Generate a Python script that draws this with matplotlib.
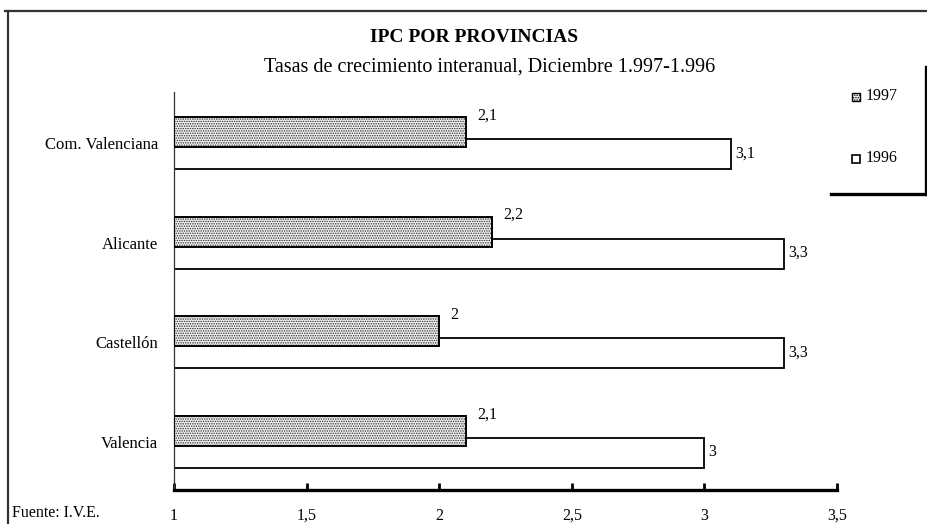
import matplotlib
matplotlib.use("Agg")
import matplotlib.pyplot as plt
from matplotlib.patches import Rectangle
from matplotlib.lines import Line2D

plt.rcParams['font.family'] = ['Liberation Serif', 'DejaVu Serif']
plt.rcParams['hatch.linewidth'] = 0.7

categories = ["Valencia", "Castellón", "Alicante", "Com. Valenciana"]
v1997 = [2.1, 2.0, 2.2, 2.1]
v1996 = [3.0, 3.3, 3.3, 3.1]
labels1997 = ["2,1", "2", "2,2", "2,1"]
labels1996 = ["3", "3,3", "3,3", "3,1"]
xticks = [1, 1.5, 2, 2.5, 3, 3.5]
xticklabels = ["1", "1,5", "2", "2,5", "3", "3,5"]

W, H = 928, 524
fig = plt.figure(figsize=(W/100, H/100), dpi=100)
ax = fig.add_axes([174/W, 1-490/H, 663/W, (490-92)/H])

base = 1.0
hgt = 0.30
off = 0.11
ys = list(range(len(categories)))
y96 = [y - off for y in ys]
y97 = [y + off for y in ys]
ax.barh(y96, [v - base for v in v1996], left=base, height=hgt, color='white',
        edgecolor='black', linewidth=1.3, zorder=2)
ax.barh(y97, [v - base for v in v1997], left=base, height=hgt, color='#f2f2f2',
        edgecolor='#2a2a2a', hatch='.......', linewidth=1.3, zorder=3)
ax.barh(y97, [v - base for v in v1997], left=base, height=hgt, color='none',
        edgecolor='black', linewidth=1.3, zorder=4)

for y, v, t in zip(y97, v1997, labels1997):
    ax.annotate(t, (v, y), xytext=(8, 12), textcoords='offset points',
                fontsize=11.5, va='center', ha='left')
for y, v, t in zip(y96, v1996, labels1996):
    ax.annotate(t, (v, y), xytext=(3, 0.5), textcoords='offset points',
                fontsize=11.5, va='center', ha='left')

ax.set_xlim(1, 3.5)
ax.set_ylim(-0.481, 3.512)
ax.set_xticks(xticks)
ax.set_xticklabels(xticklabels, fontsize=11.5)
ax.set_yticks(ys)
ax.set_yticklabels(categories, fontsize=12)
ax.tick_params(axis='x', direction='in', length=5, width=2, pad=13, colors='black')
ax.tick_params(axis='y', length=0, pad=11.5)
for s in ['top', 'right']:
    ax.spines[s].set_visible(False)
ax.spines['bottom'].set_linewidth(2.4)
ax.spines['left'].set_linewidth(0.9)
ax.spines['left'].set_color('#333333')

fig.text(474/W, 1-37/H, "IPC POR PROVINCIAS", ha='center', va='center',
         fontsize=14, fontweight='bold')
fig.text(490/W, 1-67/H, "Tasas de crecimiento interanual, Diciembre 1.997-1.996",
         ha='center', va='center', fontsize=14.5)
fig.text(12/W, 1-513/H, "Fuente: I.V.E.", ha='left', va='center', fontsize=11.5)

# outer frame
fig.add_artist(Line2D([5/W, 1], [1-11/H, 1-11/H], color='#333333', linewidth=1.6))
fig.add_artist(Line2D([8/W, 8/W], [1-11/H, 0], color='#333333', linewidth=1.6))

# legend box shadow
fig.add_artist(Line2D([926.5/W, 926.5/W], [1-67/H, 1-194/H], color='black', linewidth=2.4))
fig.add_artist(Line2D([831/W, 928/W], [1-193.5/H, 1-193.5/H], color='black', linewidth=2.4))
# legend entries
fig.add_artist(Rectangle((852/W, 1-101/H), 8/W, 8/H, facecolor='#f2f2f2', edgecolor='black',
                         hatch='.......', linewidth=1.0))
fig.text(866/W, 1-96/H, "1997", ha='left', va='center', fontsize=11.5)
fig.add_artist(Rectangle((852/W, 1-163/H), 8/W, 8/H, facecolor='white', edgecolor='black',
                         linewidth=1.2))
fig.text(866/W, 1-158/H, "1996", ha='left', va='center', fontsize=11.5)

fig.savefig("out.png", dpi=100)
